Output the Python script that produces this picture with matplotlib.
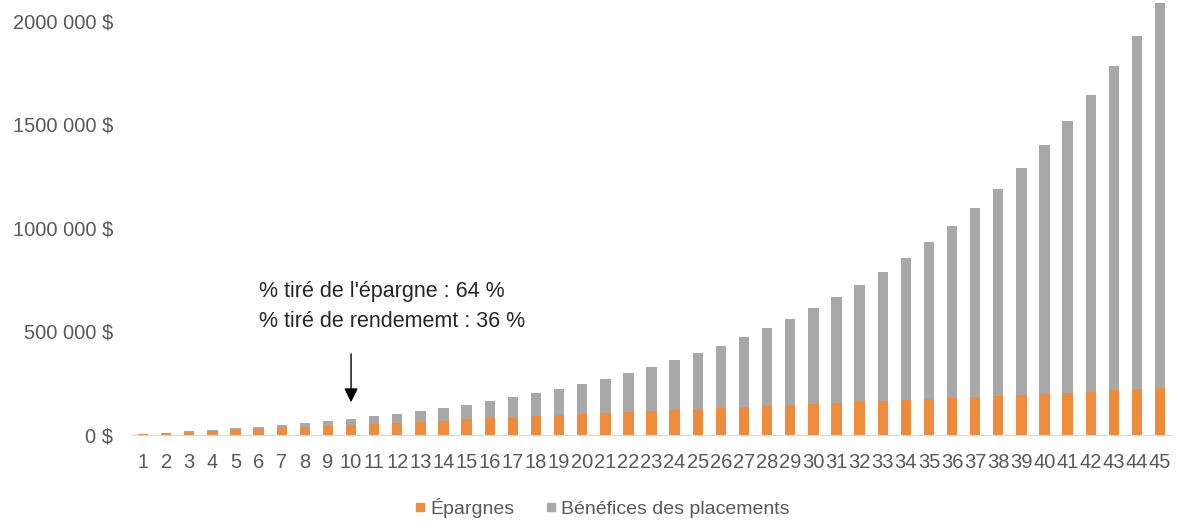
import matplotlib.pyplot as plt
from matplotlib.lines import Line2D
from matplotlib.ticker import FuncFormatter

plt.rcParams['font.family'] = ['Liberation Sans', 'DejaVu Sans']

annees = list(range(1, 46))

# savings put aside each year (cumulative)
epargnes = [5000, 10000, 15000, 20000, 25000, 30000, 35000, 40000, 45000, 50000,
            55000, 60000, 65000, 70000, 75000, 80000, 85000, 90000, 95000, 100000,
            105000, 110000, 115000, 120000, 125000, 130000, 135000, 140000, 145000, 150000,
            155000, 160000, 165000, 170000, 175000, 180000, 185000, 190000, 195000, 200000,
            205000, 210000, 215000, 220000, 225000]

# investment gains on top of the savings
benefices = [400, 1200, 2500, 4300, 6700, 9600, 13200, 17400, 22400, 28200,
             34900, 42500, 51100, 60800, 71600, 83800, 97300, 112200, 128800, 147100,
             167300, 189500, 213800, 240500, 269800, 301800, 336700, 374800, 416400, 461700,
             511100, 564800, 623100, 686600, 755500, 830400, 911600, 999700, 1095300, 1198900,
             1311200, 1432900, 1564700, 1707500, 1862100]

y_ticks = [0, 500000, 1000000, 1500000, 2000000]

orange = '#EE8B3D'
gris = '#A8A8A8'
txt = '#595959'

fig = plt.figure(figsize=(11.78, 5.21), dpi=100)
ax = fig.add_axes([0.1116, 0.165, 0.883, 0.835])

ax.bar(annees, epargnes, width=0.45, color=orange, label='Épargnes')
ax.bar(annees, benefices, width=0.45, bottom=epargnes, color=gris,
       label='Bénéfices des placements')

ax.set_xlim(0.5, 45.5)
ax.set_ylim(0, 2100000)
ax.set_xticks(annees)
ax.set_xticklabels([str(a) for a in annees])
ax.set_yticks(y_ticks)


def fmt(v, pos):
    if v == 0:
        return '0 $'
    s = f'{int(v):,}'.replace(',', ' ')
    # the chart writes millions without the first separator
    if v >= 1000000:
        s = s.replace(' ', '', 1)
    return s + ' $'


ax.yaxis.set_major_formatter(FuncFormatter(fmt))
ax.tick_params(axis='both', length=0, colors=txt, labelsize=14.5)
ax.tick_params(axis='y', pad=13)
ax.tick_params(axis='x', pad=13)
for s in ['top', 'right', 'left']:
    ax.spines[s].set_visible(False)
ax.spines['bottom'].set_color('#D9D9D9')

ax.annotate('', xy=(10, 145000), xytext=(10, 405000),
            arrowprops=dict(arrowstyle='-|>,head_width=0.3,head_length=0.6',
                            color='black', lw=1, mutation_scale=14))
ax.text(6.0, 620000, "% tiré de l'épargne : 64 %\n% tiré de rendememt : 36 %",
        ha='left', va='center', fontsize=15.5, color='#262626', linespacing=1.55)

handles = [Line2D([], [], marker='s', color=orange, ls='', markersize=6),
           Line2D([], [], marker='s', color=gris, ls='', markersize=6)]
fig.legend(handles, ['Épargnes', 'Bénéfices des placements'], loc='center',
           bbox_to_anchor=(0.511, 0.025), ncol=2, frameon=False, fontsize=14,
           handlelength=0.6, handletextpad=0.2, columnspacing=1.6, labelcolor=txt)

fig.savefig('out.png', dpi=100)
